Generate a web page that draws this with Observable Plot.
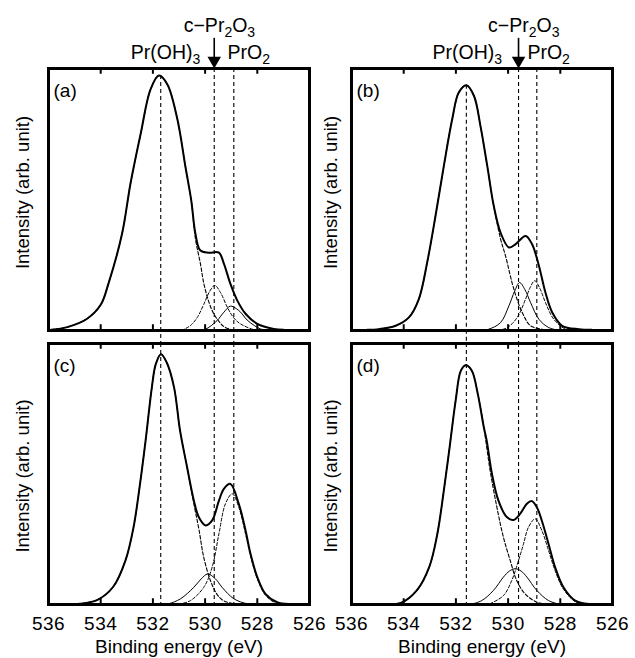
<!DOCTYPE html>
<html><head><meta charset="utf-8">
<script src="https://cdn.jsdelivr.net/npm/d3@7"></script>
<script src="https://cdn.jsdelivr.net/npm/@observablehq/plot@0.6"></script>
<style>
body{margin:0;background:#fff;}
#chart{position:relative;width:635px;height:658px;overflow:hidden;background:#fff;}
#chart svg{position:absolute;overflow:visible;}
#chart g[aria-label="ylabel"] text{letter-spacing:1.6px;}
#chart g[aria-label="xlabel"] text{letter-spacing:1.3px;}
#chart g[aria-label="ann"] text{letter-spacing:1.5px;}
#chart g[aria-label="x-axis tick label"] text{letter-spacing:0.5px;}
</style></head><body><div id="chart"></div>
<script>
// ---------- data ----------
const panelLabels = ["(a)", "(b)", "(c)", "(d)"];
const xTicks = [536, 534, 532, 530, 528, 526];
const innerTicks = [534, 532, 530, 528];
const refLinesLeft = [531.7, 529.65, 528.9];
const refLinesRight = [531.6, 529.6, 528.9];
const speciesLabels = ["Pr(OH)_3", "c\u2212Pr_2O_3", "PrO_2"];
const yLabel = "Intensity (arb. unit)";
const xLabel = "Binding energy (eV)";

// panel (a)
const envA = [[535.9,0.3],[535.28,1.3],[534.52,4.5],[534.0,9.8],[533.7,18],[533.18,37],[532.86,56],[532.47,75],[532.09,92],[531.77,97.3],[531.45,94],[531.07,81],[530.75,62.3],[530.53,49.6],[530.37,36.9],[530.18,30.5],[529.86,29.7],[529.47,29.7],[529.28,25.5],[529.03,17.8],[528.77,11.5],[528.45,6.4],[528.0,2.5],[527.37,0.6],[527.0,0.3]];
const ohA = [[535.9,0.3],[535.28,1.3],[534.52,4.5],[534.0,9.8],[533.7,18],[533.18,37],[532.86,56],[532.47,75],[532.09,92],[531.77,97.3],[531.45,94],[531.07,81],[530.75,62.3],[530.53,49.6],[530.37,35],[530.18,25.5],[530.05,18],[529.86,11],[529.67,6.4],[529.47,3.5],[529.28,1.5],[529.0,0.4],[528.7,0]];
const pr2o3A = [[530.9,0],[530.56,1.9],[530.3,5],[530.05,10],[529.82,15],[529.63,17.2],[529.41,14.5],[529.15,8.9],[528.9,4.8],[528.64,2.5],[528.13,0.3],[527.9,0]];
const pro2A = [[530.3,0],[530.0,0.4],[529.54,3.8],[529.28,7],[529.03,9.3],[528.8,8.3],[528.64,7],[528.39,4],[528.1,1.8],[527.88,0.6],[527.5,0]];

// panel (b)
const envB = [[535.4,0.3],[534.95,0.5],[534.31,1.8],[533.8,5],[533.42,12],[533.1,26],[532.78,43.8],[532.46,62.9],[532.14,80.7],[531.89,90.8],[531.6,93.6],[531.31,89.6],[531.06,78.1],[530.8,62.9],[530.55,47.6],[530.29,37.4],[529.97,31.7],[529.72,32.9],[529.33,36.1],[529.08,32.9],[528.82,24.7],[528.57,14.5],[528.31,6.9],[527.93,1.8],[527.29,0.5],[526.8,0.3]];
const ohB = [[535.4,0.3],[534.95,0.5],[534.31,1.8],[533.8,5],[533.42,12],[533.1,26],[532.78,43.8],[532.46,62.9],[532.14,80.7],[531.89,90.8],[531.6,93.6],[531.31,89.6],[531.06,78.1],[530.8,62.9],[530.55,47.6],[530.29,35],[530.1,28.5],[529.78,15.8],[529.46,6.9],[529.14,1.8],[528.7,0.5],[528.3,0]];
const pr2o3B = [[531.0,0],[530.74,0.5],[530.29,3],[529.97,9.4],[529.75,15],[529.56,18.3],[529.35,15.5],[529.14,10.7],[528.82,4.3],[528.44,1.1],[528.0,0]];
const pro2B = [[530.4,0],[530.03,1.1],[529.65,5],[529.33,12],[529.15,16.5],[528.98,19],[528.78,16],[528.57,10.7],[528.25,4.3],[527.8,0.5],[527.4,0]];

// panel (c)
const envC = [[534.9,0.2],[534.14,1.7],[533.52,6.8],[533.05,16.9],[532.74,29.7],[532.51,45],[532.28,62.8],[532.04,83.2],[531.89,92.1],[531.69,95.9],[531.47,92.7],[531.19,83.2],[530.96,66.6],[530.69,52.6],[530.43,39.8],[530.24,33.4],[529.98,30.3],[529.73,32.2],[529.47,39.8],[529.28,44.3],[529.03,46.2],[528.71,38.6],[528.45,28.4],[528.26,19.4],[528.0,10.5],[527.69,4.1],[527.24,0.9],[526.8,0.2]];
const ohC = [[534.9,0.2],[534.14,1.7],[533.52,6.8],[533.05,16.9],[532.74,29.7],[532.51,45],[532.28,62.8],[532.04,83.2],[531.89,92.1],[531.69,95.9],[531.47,92.7],[531.19,83.2],[530.96,66.6],[530.69,52.6],[530.43,38.5],[530.24,29],[530.05,18],[529.79,9],[529.55,4],[529.3,1.5],[528.9,0.3],[528.5,0]];
const pr2o3C = [[531.6,0],[531.39,0.3],[530.94,2.2],[530.43,6.6],[530.15,9.8],[529.9,11.7],[529.6,9.8],[529.35,6.6],[528.9,2.2],[528.39,0.3],[528.0,0]];
const pro2C = [[531.2,0],[530.94,0.3],[530.56,1.5],[530.05,6.6],[529.73,14.3],[529.47,27.1],[529.22,38.6],[528.96,42.4],[528.71,37.3],[528.45,27],[528.26,18.5],[528.0,9.8],[527.69,3.6],[527.3,0.6],[526.9,0]];

// panel (d)
const envD = [[534.8,0.2],[534.11,0.6],[533.49,5.5],[533.02,14.4],[532.71,27.1],[532.48,42.4],[532.24,60.3],[532.01,78.1],[531.81,89.6],[531.62,91.7],[531.39,89.6],[531.16,80.6],[530.93,67.9],[530.82,62.8],[530.62,50.1],[530.37,39.8],[530.05,33.5],[529.79,32.4],[529.54,34.7],[529.28,38.6],[529.09,39.6],[528.9,37.3],[528.71,32.2],[528.45,23.2],[528.2,14.3],[527.88,6.6],[527.43,1.5],[526.9,0.2]];
const ohD = [[534.8,0.2],[534.11,0.6],[533.49,5.5],[533.02,14.4],[532.71,27.1],[532.48,42.4],[532.24,60.3],[532.01,78.1],[531.81,89.6],[531.62,91.7],[531.39,89.6],[531.16,80.6],[530.93,67.9],[530.69,51.4],[530.43,37.3],[530.18,25.8],[529.92,16.9],[529.67,9.2],[529.35,4.1],[528.9,0.9],[528.39,0]];
const pr2o3D = [[531.45,0],[531.01,1.5],[530.56,5.4],[530.18,10.5],[529.95,12.8],[529.73,13.7],[529.5,12.8],[529.28,10.5],[528.9,5.4],[528.45,1.5],[528.0,0]];
const pro2D = [[530.69,0.3],[530.18,3.4],[529.86,9.2],[529.6,16.9],[529.41,23.2],[529.22,29.6],[528.96,32.8],[528.71,28.4],[528.45,20.7],[528.2,13],[527.88,5.9],[527.43,1.1],[527.0,0]];

// ---------- drawing ----------
const FONT = "'Liberation Sans', Arial, Helvetica, sans-serif";
const chart = document.getElementById("chart");

const panels = [
  {label: panelLabels[0], env: envA, oh: ohA, c: pr2o3A, p: pro2A, refs: refLinesLeft, col: 0, row: 0, dashC: "3,2", dashP: null},
  {label: panelLabels[1], env: envB, oh: ohB, c: pr2o3B, p: pro2B, refs: refLinesRight, col: 1, row: 0, dashC: null, dashP: "3,2"},
  {label: panelLabels[2], env: envC, oh: ohC, c: pr2o3C, p: pro2C, refs: refLinesLeft, col: 0, row: 1, dashC: null, dashP: "3,2"},
  {label: panelLabels[3], env: envD, oh: ohD, c: pr2o3D, p: pro2D, refs: refLinesRight, col: 1, row: 1, dashC: null, dashP: "3,2"}
];

function curve(data, opts) {
  return Plot.line(data, {x: d => d[0], y: d => d[1], curve: "catmull-rom", stroke: "black", ...opts});
}

function subscriptify(svg) {
  d3.select(svg).selectAll("text").each(function () {
    const t = this.textContent;
    if (!t.includes("_")) return;
    const sel = d3.select(this);
    sel.text(null);
    const parts = t.split(/_(\d)/);
    let lowered = false;
    parts.forEach((s, i) => {
      if (!s) return;
      const sub = i % 2 === 1;
      const ts = sel.append("tspan").text(s);
      if (sub) {
        ts.attr("font-size", "72%");
        if (!lowered) { ts.attr("dy", 5); lowered = true; }
      } else if (lowered) {
        ts.attr("dy", -5); lowered = false;
      }
    });
  });
}

for (const pn of panels) {
  const left = pn.col === 0, top = pn.row === 0;
  const width = left ? 330 : 305;
  const height = top ? 336 : 322;
  const [eOH, eC, eP] = pn.refs;
  const peak = d3.max(pn.env, d => d[1]);
  const yLow = top ? -5 : 0;
  const dashRef = {stroke: "black", strokeWidth: 1.1, strokeDasharray: "4,3"};
  const marks = [
    Plot.ruleX([eOH], {y1: top ? peak : 100, y2: yLow, ...dashRef}),
    Plot.ruleX([eC, eP], {y1: 100, y2: yLow, ...dashRef}),
    curve(pn.oh, {strokeWidth: 1.1, strokeDasharray: "3.5,2"}),
    curve(pn.c, {strokeWidth: 1, strokeDasharray: pn.dashC}),
    curve(pn.p, {strokeWidth: 1, strokeDasharray: pn.dashP}),
    curve(pn.env, {strokeWidth: 2}),
    Plot.ruleX(innerTicks, {y1: 0, y2: 2.2, stroke: "black", strokeWidth: 2}),
    Plot.ruleX(innerTicks, {y1: 97.8, y2: 100, stroke: "black", strokeWidth: 2}),
    Plot.frame({stroke: "black", strokeWidth: 3}),
    Plot.text([pn.label], {frameAnchor: "top-left", dx: 5, dy: 15, lineAnchor: "top", textAnchor: "start", fontSize: 19}),
    Plot.text([yLabel], {frameAnchor: "left", rotate: -90, textAnchor: "middle", lineAnchor: "middle", dx: left ? -25 : -20, dy: top ? -7 : 2, fontSize: 18.5, ariaLabel: "ylabel"})
  ];
  if (top) {
    marks.push(
      Plot.text([speciesLabels[0]], {x: left ? 530.18 : 530.23, y: 103.8, textAnchor: "end", lineAnchor: "bottom", fontSize: 19.5, ariaLabel: "ann"}),
      Plot.text([speciesLabels[2]], {x: left ? 529.14 : 529.26, y: 103.8, textAnchor: "start", lineAnchor: "bottom", fontSize: 19.5, ariaLabel: "ann"}),
      Plot.text([speciesLabels[1]], {x: left ? 529.45 : 529.4, y: 114.1, textAnchor: "middle", lineAnchor: "bottom", fontSize: 19.5, ariaLabel: "ann"}),
      Plot.ruleX([eC], {y1: 104, y2: 111.5, stroke: "black", strokeWidth: 1.6}),
      Plot.dot([eC], {x: d => d, y: 100, symbol: "triangle", rotate: 180, r: 5, fill: "black", stroke: null, dy: -7.8})
    );
  } else {
    marks.push(
      Plot.axisX(xTicks, {tickSize: 0, tickPadding: 12, fontSize: 19, label: null, tickFormat: d => String(d)}),
      Plot.text([xLabel], {frameAnchor: "bottom", textAnchor: "middle", dy: 48, lineAnchor: "bottom", fontSize: 19, ariaLabel: "xlabel"})
    );
  }
  const svg = Plot.plot({
    width, height,
    marginLeft: left ? 48 : 21,
    marginRight: left ? 21 : 23,
    marginTop: top ? 68 : 7,
    marginBottom: top ? 6 : 54,
    x: {domain: [536, 526], axis: null},
    y: {domain: [0, 100], axis: null},
    style: {fontFamily: FONT, fontSize: "19px", background: "transparent", overflow: "visible", color: "black", maxWidth: "none"},
    marks
  });
  svg.style.position = "absolute";
  svg.style.left = (left ? 0 : 330) + "px";
  svg.style.top = (top ? 0 : 336) + "px";
  subscriptify(svg);
  chart.appendChild(svg);
}
</script></body></html>
